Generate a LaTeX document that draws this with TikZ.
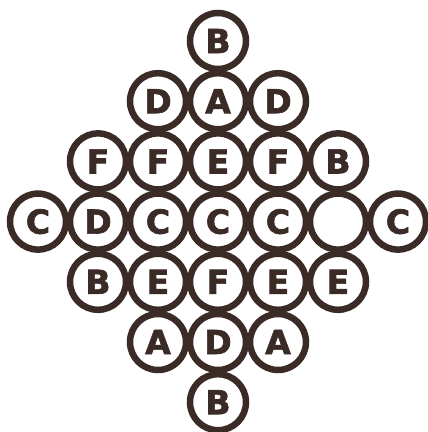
\documentclass[tikz,border=0pt]{standalone}
\usepackage{fontspec}
\newfontfamily\lettfont[FakeBold=2]{DejaVu Sans Bold}
\definecolor{ink}{HTML}{3B2B27}
\begin{document}
\begin{tikzpicture}[x=1pt,y=1pt,
  ring/.style={circle,draw=ink,line width=6.5pt,minimum size=56pt,inner sep=0pt,
    text=ink,font=\lettfont\fontsize{33}{33}\selectfont}]
\useasboundingbox (0,0) rectangle (428,432);
\fill[white] (0,0) rectangle (428,432);
% columns x = 38 + 60 i ; rows y = 432 - (41 + 60.2 j)
\foreach \r/\row in {0/{3/B},
                     1/{2/D,3/A,4/D},
                     2/{1/F,2/F,3/E,4/F,5/B},
                     3/{0/C,1/D,2/C,3/C,4/C,5/{},6/C},
                     4/{1/B,2/E,3/F,4/E,5/E},
                     5/{2/A,3/D,4/A},
                     6/{3/B}} {
  \foreach \c/\t in \row {
    \node[ring] (n-\r-\c) at ({38+60*\c},{432-41-60.2*\r}) {\t};
  }
}
\end{tikzpicture}
\end{document}
